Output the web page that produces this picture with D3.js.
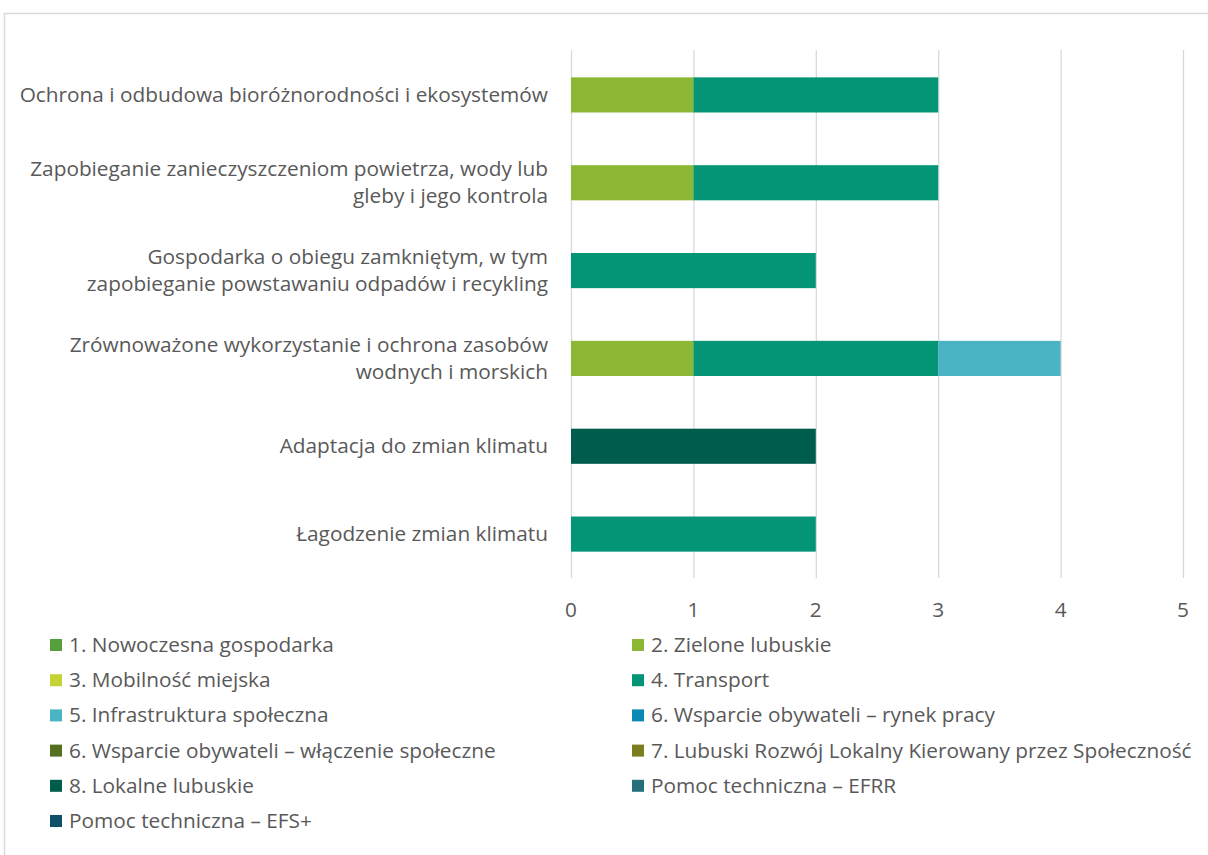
<!DOCTYPE html>
<html><head><meta charset="utf-8">
<script src="https://cdn.jsdelivr.net/npm/d3@7"></script>
<style>body{margin:0;background:#fff}svg{display:block}text{font-family:"Open Sans",sans-serif;fill:#595959}</style>
</head><body><svg id="c" width="1208" height="855"></svg>
<script>
const categories = [
  "Ochrona i odbudowa bioróżnorodności i ekosystemów",
  "Zapobieganie zanieczyszczeniom powietrza, wody lub|gleby i jego kontrola",
  "Gospodarka o obiegu zamkniętym, w tym|zapobieganie powstawaniu odpadów i recykling",
  "Zrównoważone wykorzystanie i ochrona zasobów|wodnych i morskich",
  "Adaptacja do zmian klimatu",
  "Łagodzenie zmian klimatu"
];
const seriesNames = [
  "1. Nowoczesna gospodarka","2. Zielone lubuskie","3. Mobilność miejska","4. Transport",
  "5. Infrastruktura społeczna","6. Wsparcie obywateli – rynek pracy","6. Wsparcie obywateli – włączenie społeczne",
  "7. Lubuski Rozwój Lokalny Kierowany przez Społeczność","8. Lokalne lubuskie","Pomoc techniczna – EFRR","Pomoc techniczna – EFS+"
];
const colors = ["#55a03b","#8bb733","#c5d337","#039575","#4ab4c4","#0b88b4","#54701f","#7a7e1f","#005c4b","#27707a","#0d5068"];
// values per series, aligned with categories
const s1 = [0,0,0,0,0,0];
const s2 = [1,1,0,1,0,0];
const s3 = [0,0,0,0,0,0];
const s4 = [2,2,2,2,0,2];
const s5 = [0,0,0,1,0,0];
const s6a = [0,0,0,0,0,0];
const s6b = [0,0,0,0,0,0];
const s7 = [0,0,0,0,0,0];
const s8 = [0,0,0,0,2,0];
const sPTa = [0,0,0,0,0,0];
const sPTb = [0,0,0,0,0,0];
const xTicks = [0,1,2,3,4,5];

const values = [s1,s2,s3,s4,s5,s6a,s6b,s7,s8,sPTa,sPTb];
const svg = d3.select("#c");
const FS = 20.8;

// outer border
svg.append("path").attr("d","M4.5,855 L4.5,13.5 L1208,13.5").attr("fill","none").attr("stroke","#d9d9d9").attr("stroke-width",1.5);

const x = d3.scaleLinear().domain([0,5]).range([571,1183]);
const y = d3.scaleBand().domain(categories).range([51,578]).paddingInner(0.6).paddingOuter(0.3);

// gridlines
svg.append("g").selectAll("line").data(xTicks).join("line")
  .attr("x1",d=>x(d)+0.5).attr("x2",d=>x(d)+0.5).attr("y1",50).attr("y2",578)
  .attr("stroke","#d9d9d9").attr("stroke-width",1.3);

// tick labels
svg.append("g").selectAll("text").data(xTicks).join("text")
  .attr("x",d=>x(d)).attr("y",617).attr("text-anchor","middle").attr("font-size",FS).text(d=>d);

// stacked bars
const rows = categories.map((c,i)=>{const o={cat:c}; seriesNames.forEach((s,j)=>o[s]=values[j][i]); return o;});
const stack = d3.stack().keys(seriesNames)(rows);
svg.append("g").selectAll("g").data(stack).join("g").attr("fill",(d,i)=>colors[i])
  .selectAll("rect").data(d=>d.filter(p=>p[1]-p[0]>0)).join("rect")
  .attr("x",d=>x(d[0])).attr("width",d=>x(d[1])-x(d[0]))
  .attr("y",d=>y(d.data.cat)).attr("height",y.bandwidth());

// category labels
const lab = svg.append("g");
categories.forEach(c=>{
  const lines = c.split("|");
  const cy = y(c)+y.bandwidth()/2;
  const lh = 27;
  const t = lab.append("text").attr("text-anchor","end").attr("font-size",FS);
  lines.forEach((l,k)=>{
    t.append("tspan").attr("x",548).attr("y",cy + (k-(lines.length-1)/2)*lh + 7).text(l);
  });
});

// legend
const lg = svg.append("g");
seriesNames.forEach((s,i)=>{
  const col = i%2, row = Math.floor(i/2);
  const lx = col===0 ? 50 : 632;
  const ly = 645 + row*35.2;
  lg.append("rect").attr("x",lx).attr("y",ly-6).attr("width",12).attr("height",12).attr("fill",colors[i]);
  lg.append("text").attr("x",lx+19).attr("y",ly+7).attr("font-size",FS).text(s);
});
</script></body></html>
